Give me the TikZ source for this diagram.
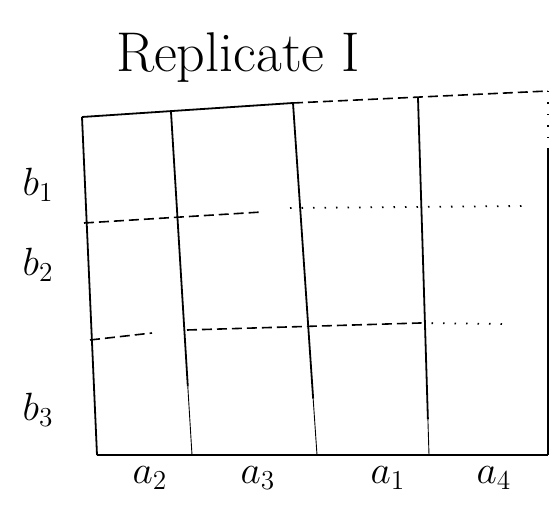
\documentclass[tikz,border=0pt]{standalone}
\usepackage{graphicx}
\usepackage{tikz}
\usetikzlibrary{positioning, calc}

\newcommand{\biglabel}[1]{\scalebox{1.9}{\huge$#1$}}

\begin{document}
\begin{tikzpicture}[
    x=1pt, y=-1pt,
    % Lines
    edge_line/.style={line width=1.8pt, black},
    thin_line/.style={line width=0.9pt, black},
    broken_line/.style={line width=1.6pt, black, dash pattern=on 10pt off 5pt},
    dotted_line/.style={line width=1.8pt, black, dash pattern=on 1.5pt off 10pt},
    % Labels
    title_text/.style={font=\fontsize{56}{60}\selectfont},
    label_text/.style={inner sep=0pt}
]
    \useasboundingbox (0,0) rectangle (554,510);

    % --- CORNERS ---
    \coordinate (TL) at (82,117);
    \coordinate (TR) at (548,91);
    \coordinate (BL) at (97,455);
    \coordinate (BR) at (548,455);

    % --- COLUMN ENDS ---
    \coordinate (C1-top) at (171,112);
    \coordinate (C1-bot) at (192,455);
    \coordinate (C2-top) at (293,103);
    \coordinate (C2-bot) at (317,455);
    \coordinate (C3-top) at (418,98);
    \coordinate (C3-bot) at (429,455);

    % --- ROW ENDS ---
    \coordinate (R1-l) at (84,223);
    \coordinate (R1-m) at (262,212);
    \coordinate (R1-d) at (290,208);
    \coordinate (R1-r) at (525,206);
    \coordinate (R2-l) at (90,340);
    \coordinate (R2-m) at (152,333);
    \coordinate (R2-n) at (187,330);
    \coordinate (R2-d) at (420,323);
    \coordinate (R2-r) at (502,324);

    % --- OUTER FRAME ---
    \draw[edge_line] (TL) -- (C2-top);
    \draw[broken_line] (C2-top) -- (TR);
    \draw[dotted_line] (TR) -- (548,150);
    \draw[edge_line] (548,150) -- (BR);
    \draw[edge_line] (TL) -- (BL);
    \draw[edge_line] (BL) -- (BR);

    % --- COLUMNS ---
    \foreach \c/\p in {C1/0.8, C2/0.84, C3/0.9} {
        \draw[edge_line] (\c-top) -- ($(\c-top)!\p!(\c-bot)$) coordinate (\c-mid);
        \draw[thin_line] (\c-mid) -- (\c-bot);
    }

    % --- ROWS ---
    \draw[broken_line] (R1-l) -- (R1-m);
    \draw[dotted_line] (R1-d) -- (R1-r);
    \draw[broken_line] (R2-l) -- (R2-m);
    \draw[broken_line] (R2-n) -- (R2-d);
    \draw[dotted_line] (R2-d) -- (R2-r);

    % --- TITLE ---
    \node[title_text] (title) at (238,58) {Replicate I};

    % --- ROW LABELS ---
    \foreach \name/\y in {1/185, 2/265, 3/410} {
        \node[label_text] (B-\name) at (38,\y) {\biglabel{b_{\name}}};
    }

    % --- COLUMN LABELS ---
    \foreach \name/\x in {2/150, 3/258, 1/388, 4/494} {
        \node[label_text] (A-\name) at (\x,478) {\biglabel{a_{\name}}};
    }

\end{tikzpicture}
\end{document}
